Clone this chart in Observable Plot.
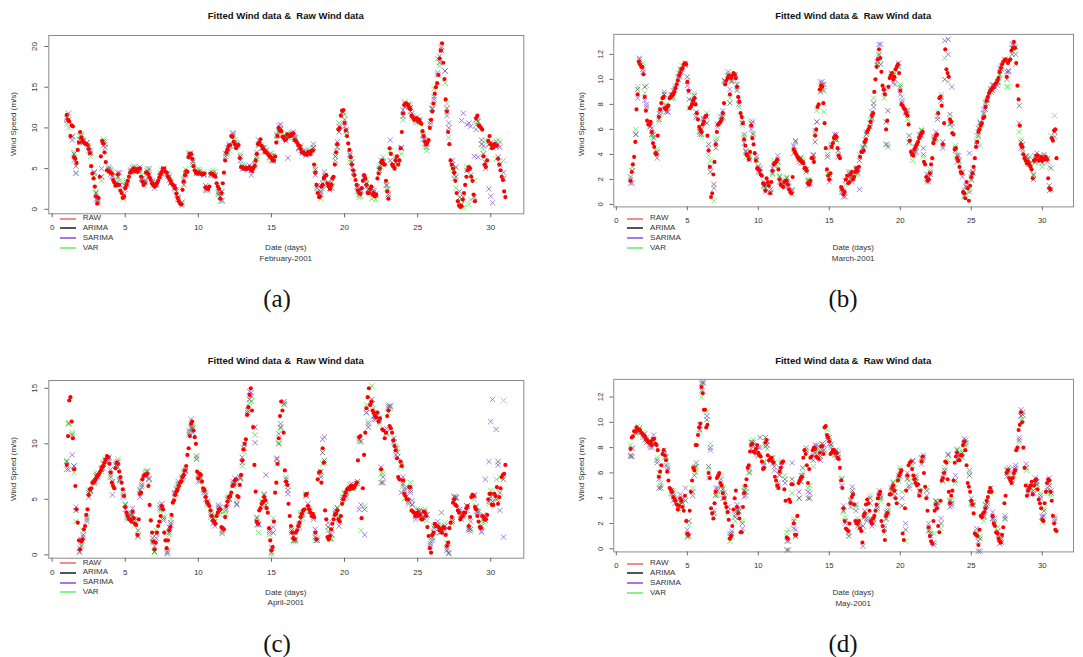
<!DOCTYPE html>
<html><head><meta charset="utf-8">
<script src="https://cdn.jsdelivr.net/npm/d3@7"></script>
<script src="https://cdn.jsdelivr.net/npm/@observablehq/plot@0.6"></script>
<style>
html,body{margin:0;padding:0;background:#fff;}
body{width:1083px;height:657px;overflow:hidden;position:relative;font-family:"Liberation Sans",Arial,sans-serif;color:#222;}
.t{position:absolute;white-space:nowrap;transform:translate(-50%,-50%);line-height:1;}
.title{font-weight:bold;font-size:9.5px;color:#111;}
.lab{font-size:8px;color:#333;}
.cap{font-family:"Liberation Serif","Times New Roman",serif;font-size:25px;color:#111;}
.leg{position:absolute;font-size:8px;color:#333;white-space:nowrap;line-height:1;}
.legline{position:absolute;height:2px;width:16px;}
.panel{position:absolute;}
</style></head><body>
<script>
// ---------------- DATA ----------------
const months = ["February-2001", "March-2001", "April-2001", "May-2001"];
const seriesNames = ["RAW", "ARIMA", "SARIMA", "VAR"];
const xTickValues = [0, 5, 10, 15, 20, 25, 30];
const yTicksFeb = [0, 5, 10, 15, 20];
const yTicksMar = [0, 2, 4, 6, 8, 10, 12];
const yTicksApr = [0, 5, 10, 15];
const yTicksMay = [0, 2, 4, 6, 8, 10, 12];
// raw data read every 2 hours from day 1
const rawStart = 1, rawStep = 1 / 12;
// fitted values read at 03h,09h,15h,21h (fitStart/fitStep) and at 00h,12h (halfStart/halfStep)
const fitStart = 1.125, fitStep = 0.25;
const halfStart = 1, halfStep = 0.5;

const febRaw = [
 11.6,11.0,10.8,9.0,10.3,10.2,6.4,6.2,5.7,7.3,8.2,9.5,
 8.8,8.4,8.2,8.1,8.0,7.9,7.4,6.9,5.3,4.4,3.8,2.8,
 1.6,0.7,1.4,4.0,6.5,8.4,8.1,7.0,5.8,4.8,4.7,4.6,
 4.5,4.4,3.6,3.3,2.9,3.0,4.3,3.0,2.3,2.0,1.4,1.6,
 2.6,3.0,3.5,4.0,4.5,4.6,4.9,5.0,4.7,4.9,4.6,5.0,
 5.0,4.0,3.4,3.0,3.2,4.5,4.5,4.3,3.9,3.6,3.2,3.0,
 2.8,2.9,3.2,3.5,3.9,4.3,4.6,5.0,5.0,4.6,4.5,4.0,
 3.8,3.5,3.2,3.0,2.9,2.6,1.9,1.4,1.0,0.7,0.6,2.4,
 3.4,4.2,4.7,4.6,6.4,6.8,6.8,6.2,5.3,4.8,4.5,4.4,
 4.5,4.4,4.4,4.3,4.3,4.4,2.7,2.6,2.5,2.8,4.4,4.4,
 4.3,4.2,4.0,3.2,2.8,2.5,1.3,2.0,3.2,4.5,6.0,7.0,
 7.4,7.8,7.9,9.0,8.9,8.3,8.0,7.5,7.8,7.9,6.3,5.2,
 5.2,5.0,5.0,5.0,5.0,5.1,5.2,4.9,4.7,5.0,5.3,6.0,
 6.8,8.0,8.2,8.6,7.8,7.5,7.3,7.0,7.0,6.8,6.6,6.5,
 6.3,6.0,6.0,6.5,8.2,9.0,10.0,9.7,9.6,8.9,8.9,8.5,
 8.6,9.2,9.1,9.0,9.0,9.3,9.3,8.5,8.4,8.2,7.9,7.8,
 7.4,7.0,7.0,6.8,6.8,6.7,7.0,7.0,6.8,7.2,7.2,5.5,
 4.5,3.0,2.0,1.5,1.6,2.8,3.0,3.8,4.1,4.2,3.2,2.8,
 2.5,3.0,3.8,4.0,5.5,7.0,8.0,9.8,10.0,11.5,12.1,12.2,
 10.6,9.7,9.0,8.1,7.3,6.4,5.5,4.8,4.2,3.6,3.0,2.3,
 2.0,1.9,2.6,3.5,4.2,3.8,3.0,2.0,2.0,2.5,2.8,1.8,
 2.0,1.6,1.8,3.8,4.4,5.0,5.8,6.0,5.6,5.5,3.5,2.2,
 1.3,7.5,6.8,5.5,5.3,5.0,6.0,6.5,5.5,6.0,7.5,9.5,
 11.8,12.8,13.0,13.0,12.8,12.5,12.3,11.5,11.3,11.0,11.1,11.2,
 10.9,11.0,10.7,10.5,9.6,9.0,8.3,8.0,8.2,8.5,10.0,11.0,
 12.0,13.0,14.2,15.0,15.5,16.5,18.5,19.5,20.4,18.0,16.0,13.5,
 12.0,9.5,8.0,6.0,5.5,5.0,4.5,3.5,2.0,1.0,0.5,0.3,
 0.4,1.2,2.0,3.0,4.0,4.8,5.2,5.0,4.0,3.5,1.8,1.0,
 11.2,11.5,10.3,10.2,10.0,9.8,6.5,5.5,5.2,6.0,8.4,9.0,
 8.0,7.5,7.6,8.0,7.9,7.8,6.2,5.5,4.8,4.0,3.6,2.2,
 1.5];
const febArima = [11.0,8.9,5.3,8.6, 8.4,8.1,6.9,4.5, 1.2,4.0,7.6,4.9, 4.0,3.2,3.0,1.6, 3.2,4.7,4.8,4.8, 3.8,3.6,4.2,3.3,
 3.1,4.2,4.9,4.3, 3.3,2.6,1.2,0.8, 4.4,6.6,5.8,4.4, 4.4,4.2,2.6,4.3, 4.1,2.0,2.2,6.5, 7.8,9.2,7.9,6.5,
 5.0,5.1,4.8,5.6, 7.9,7.5,7.0,6.4, 6.1,9.0,9.8,8.8, 8.9,9.2,8.6,7.6, 7.1,6.9,6.9,7.6, 2.6,2.2,3.8,3.0,
 3.3,6.5,9.5,12.0, 9.6,6.6,4.5,2.8, 2.3,3.8,2.4,2.5, 1.7,4.8,5.7,3.0, 6.0,5.5,6.0,7.5, 12.6,12.9,11.8,11.0,
 10.8,9.0,8.0,10.5, 13.5,16.5,19.5,17.0, 10.0,5.5,4.0,1.5, 1.5,4.8,4.2,1.5, 10.8,8.5,5.8,8.0, 7.8,7.7,5.5,3.8];
const febArimaHalfDay = [11.2,6.8, 9.0,7.6, 2.0,8.3, 4.7,4.0, 2.9,4.7, 4.9,4.7, 3.0,4.4, 4.0,2.2, 3.0,6.5, 4.6,2.9,
 4.5,1.6, 7.0,8.2, 5.3,5.0, 6.5,7.1, 6.6,9.6, 8.8,9.1, 7.6,7.1, 4.9,3.2, 2.6,7.6, 11.0,5.8,
 2.2,3.2, 2.1,5.5, 1.8,5.8, 11.4,12.5, 11.0,8.6, 12.4,18.0, 12.4,4.8, 0.6,5.0, 11.0,6.8, 8.2,6.4];
const febSarima = [11.8,8.5,4.4,8.2, 8.3,8.2,7.2,4.6, 1.0,5.0,8.0,5.2, 4.2,3.0,4.5,1.8, 3.0,4.6,5.1,4.9, 3.7,3.3,5.0,3.5,
 3.0,4.0,5.0,4.4, 3.2,2.8,1.5,0.5, 4.2,6.8,6.0,4.6, 4.5,4.3,2.4,4.2, 4.2,2.2,1.1,6.8, 8.0,9.4,8.0,6.0,
 5.1,4.9,4.2,5.5, 8.5,7.6,7.2,6.8, 5.9,9.2,10.4,9.0, 6.3,9.4,8.8,7.5, 7.0,6.7,7.0,8.0, 2.9,2.0,4.6,3.2,
 2.6,6.0,10.2,12.0, 9.8,6.8,4.6,2.6, 2.4,4.0,2.5,2.2, 1.9,5.0,5.9,2.9, 8.5,5.4,6.0,7.6, 13.0,12.8,11.5,11.0,
 11.0,8.6,7.6,10.8, 13.8,16.8,19.8,17.0, 10.6,6.0,5.2,2.2, 11.8,10.4,10.2,6.5, 6.4,8.0,5.0,2.5, 0.8,8.3,7.6,4.5];
const febSarimaHalfDay = [10.9,6.0, 8.5,7.2, 1.2,7.8, 4.3,4.5, 2.4,5.1, 5.2,4.3, 2.6,4.8, 3.6,1.7, 3.6,6.9, 4.4,2.5,
 4.2,1.5, 7.6,7.8, 5.0,5.4, 7.0,7.5, 6.0,10.3, 8.4,9.5, 7.2,6.8, 4.2,2.8, 2.4,8.3, 10.2,5.2,
 1.8,2.8, 2.3,6.0, 1.5,6.2, 12.2,12.0, 10.7,8.0, 12.3,18.8, 11.5,4.2, 10.9,10.6, 9.8,7.8, 1.6,8.0];
const febVar = [10.0,9.0,4.5,9.0, 8.6,7.8,6.5,4.0, 0.8,3.5,8.3,5.0, 4.6,3.4,3.5,1.3, 3.5,4.9,5.3,4.7, 4.2,3.5,4.8,3.0,
 3.3,4.5,5.0,4.0, 3.5,2.4,1.4,0.9, 4.9,6.9,5.5,4.8, 4.8,4.6,2.3,4.6, 4.6,1.8,1.0,6.8, 7.2,9.0,8.2,6.8,
 5.3,5.2,5.1,5.3, 7.8,8.0,7.3,6.2, 6.6,8.6,10.0,9.2, 9.3,9.0,8.9,7.4, 6.9,6.6,7.2,7.5, 2.2,1.3,4.2,3.2,
 2.8,6.5,10.6,11.8, 9.2,5.8,4.0,2.2, 1.6,3.6,2.8,1.3, 1.2,5.3,6.4,2.5, 7.2,5.0,6.4,6.8, 13.2,12.5,11.2,10.7,
 10.5,9.2,7.2,10.8, 14.8,18.5,20.0,15.5, 8.8,5.0,2.6,0.5, 0.2,5.2,1.2,3.5, 10.8,8.0,8.5,7.9, 8.1,6.2,8.3,6.0];
const febVarHalfDay = [10.5,7.0, 9.2,7.8, 2.2,8.6, 4.9,3.8, 3.2,4.5, 4.6,5.0, 3.2,4.2, 4.2,2.4, 3.8,6.4, 4.9,2.3,
 4.8,1.0, 6.8,8.5, 5.5,5.0, 6.2,7.6, 6.9,9.4, 9.0,8.8, 7.8,7.4, 5.2,2.5, 2.9,7.2, 11.6,6.2,
 1.5,3.6, 1.5,5.2, 2.5,6.5, 11.0,12.8, 11.4,7.7, 12.8,17.6, 13.0,3.8, 1.2,0.6, 10.4,7.4, 7.6,8.5];

const marRaw = [
 1.9,2.6,3.2,3.8,5.0,7.6,8.8,11.4,11.2,11.0,11.0,10.4,
 8.6,7.5,6.7,6.4,6.4,6.6,5.8,4.9,4.6,4.1,4.0,5.5,
 7.0,7.6,8.1,8.5,8.6,7.7,7.6,7.8,7.9,8.5,8.6,8.8,
 8.8,9.0,9.3,9.6,9.9,10.3,10.5,10.8,10.9,11.2,11.3,11.2,
 9.8,9.1,7.7,7.8,8.0,8.3,8.5,8.0,7.3,6.8,6.2,6.0,
 5.8,6.4,6.6,7.0,7.1,5.5,4.3,3.0,0.6,0.9,2.4,3.4,
 4.8,5.8,6.4,6.5,6.6,6.8,7.3,8.1,9.6,9.9,10.1,10.3,
 8.8,10.1,10.3,10.5,10.4,10.1,9.4,8.6,8.2,7.3,7.0,6.5,
 5.2,4.7,4.0,3.9,3.6,4.2,6.3,5.3,4.8,4.1,3.5,2.9,
 2.8,2.7,2.4,2.3,1.7,1.6,1.1,2.1,1.8,1.5,0.9,1.8,
 2.7,3.2,3.3,3.4,3.6,2.8,2.0,1.6,1.5,1.4,1.8,1.9,
 1.9,1.6,1.2,1.0,0.9,2.2,4.4,4.2,4.0,3.8,3.7,3.6,
 3.5,3.4,3.3,2.9,2.9,2.7,1.7,1.6,1.9,3.7,3.7,3.4,
 5.5,6.0,7.8,8.0,9.2,9.5,9.4,8.1,6.5,4.5,2.8,2.3,
 2.0,2.5,4.6,4.9,5.3,5.5,5.4,4.5,3.9,3.7,1.4,1.2,
 0.8,1.0,2.0,2.3,1.7,1.8,2.4,2.6,2.0,2.2,2.6,2.9,
 2.7,3.0,3.8,4.2,4.2,4.3,5.0,5.2,5.8,6.0,6.2,6.6,
 7.1,7.3,9.0,10.0,11.0,11.6,12.4,11.7,10.6,9.5,9.2,8.8,
 6.0,6.7,9.4,10.1,10.3,10.5,10.0,10.2,10.8,11.0,11.2,10.5,
 9.1,8.0,7.9,7.7,7.6,7.3,7.1,6.4,5.1,4.2,4.0,3.9,
 4.4,4.6,4.8,5.0,5.3,5.5,5.7,5.8,3.4,3.2,2.2,1.9,
 2.0,2.5,3.2,3.7,4.9,5.2,5.5,5.6,7.3,8.5,8.6,7.9,
 4.8,6.5,12.4,10.8,10.5,10.2,6.8,6.6,5.7,5.6,4.4,4.5,
 3.7,3.5,3.0,2.6,2.5,1.0,0.9,0.5,1.8,1.3,0.3,1.5,
 2.2,2.5,3.0,3.7,4.6,5.0,5.8,6.0,6.3,6.5,6.9,7.0,
 7.8,8.3,8.6,8.9,9.1,9.2,9.3,9.4,9.6,9.7,9.9,10.1,
 10.6,10.9,11.2,11.4,11.5,11.6,10.2,11.3,11.5,11.6,12.3,12.5,
 13.0,12.5,11.3,9.5,8.4,6.3,4.8,4.6,4.0,3.7,3.5,3.3,
 3.4,3.2,3.0,2.8,2.1,3.5,3.6,3.9,3.9,3.5,3.6,3.8,
 3.5,3.6,3.7,3.8,3.6,2.1,1.3,1.2,5.3,5.1,5.9,6.0,
 3.7];
const marArima = [2.7,5.6,11.6,10.8, 7.8,6.3,5.3,4.2, 7.6,8.8,7.4,8.5, 9.1,10.2,10.8,11.1, 8.4,8.3,7.4,5.8, 6.8,6.5,2.6,1.6,
 6.4,6.8,9.9,10.3, 9.8,10.4,8.4,6.5, 4.3,3.8,5.6,3.8, 2.6,1.5,1.6,1.2, 3.1,3.4,1.6,1.6, 1.4,1.1,5.0,3.6,
 3.4,2.6,1.8,3.9, 6.6,9.0,9.6,3.8, 4.6,5.2,4.3,1.2, 1.9,2.2,2.2,2.8, 3.5,4.6,5.6,6.5, 8.1,11.2,11.2,9.0,
 7.5,10.5,10.0,11.3, 8.1,7.4,5.5,4.2, 4.6,5.5,4.5,2.0, 2.6,5.2,6.8,8.3, 10.0,13.2,6.5,4.3, 3.5,2.6,1.4,1.0,
 2.6,5.0,6.5,7.3, 8.3,9.2,9.4,9.8, 10.8,11.5,10.6,12.0, 12.6,7.9,4.8,3.8, 3.2,2.4,3.8,3.7, 3.6,3.7,1.2,5.8];
const marArimaHalfDay = [2.2,9.2, 9.4,5.6, 6.8,7.9, 8.6,10.8, 10.2,8.7, 5.6,4.8, 4.5,7.0, 8.1,9.6, 5.6,6.5, 3.0,1.3,
 2.5,2.2, 2.1,4.1, 3.7,1.9, 5.0,9.6, 2.4,5.2, 1.0,2.2, 2.5,4.8, 6.9,12.0, 6.6,10.3, 9.4,7.3,
 4.2,5.9, 2.2,5.3, 5.0,7.2, 3.9,1.1, 2.0,6.1, 7.6,9.1, 10.4,10.6, 12.7,5.0, 3.6,3.4, 3.3,1.5];
const marSarima = [1.7,5.6,11.7,10.6, 8.0,6.2,5.6,3.7, 7.4,9.0,7.4,8.8, 9.3,10.0,10.6,11.3, 9.0,8.2,7.0,5.6, 6.9,7.0,3.0,1.3,
 6.2,7.0,9.8,10.6, 9.9,10.2,8.0,6.8, 4.2,3.6,6.6,3.6, 2.9,1.8,1.5,1.0, 3.3,3.9,1.8,1.4, 1.7,1.2,5.1,3.4,
 3.3,2.8,1.6,4.0, 6.6,9.8,9.1,4.0, 4.8,5.6,3.8,1.0, 0.6,2.5,1.8,2.9, 1.2,4.4,5.8,6.2, 7.8,11.4,12.8,9.3,
 4.6,10.4,9.6,11.0, 8.3,7.3,5.0,4.0, 4.2,5.6,4.0,2.4, 2.4,5.4,7.0,8.6, 13.1,12.0,9.4,4.5, 3.9,2.2,1.5,4.1,
 2.5,4.8,6.6,7.6, 8.4,9.0,9.5,9.5, 11.0,11.5,10.7,12.8, 12.0,6.5,4.4,3.9, 3.3,2.0,4.1,3.5, 4.0,3.4,2.9,5.4];
const marSarimaHalfDay = [1.7,8.5, 8.3,6.1, 7.3,7.4, 9.1,10.2, 9.5,8.3, 6.0,4.5, 5.0,7.5, 9.2,9.1, 4.9,6.0, 2.6,1.0,
 2.9,1.8, 1.7,4.7, 3.3,1.5, 5.9,9.8, 1.8,5.6, 0.6,2.6, 2.9,5.2, 7.4,12.8, 4.8,9.7, 8.8,7.5,
 4.6,5.5, 1.8,5.8, 4.5,6.4, 3.4,0.7, 2.5,5.5, 8.1,9.6, 10.9,10.0, 12.8,4.5, 3.2,3.9, 3.8,1.1];
const marVar = [3.0,6.0,11.4,11.3, 9.5,6.2,5.4,4.4, 7.2,8.8,7.8,8.7, 9.5,10.5,11.1,11.2, 7.7,8.2,6.9,5.8, 6.6,7.3,3.5,0.3,
 5.3,7.0,9.9,10.4, 10.2,9.9,7.8,6.3, 3.8,3.9,5.7,3.5, 2.8,1.4,1.5,0.9, 3.5,3.1,1.4,2.0, 1.5,0.8,4.3,3.7,
 3.6,2.8,2.0,3.5, 7.5,9.3,7.4,2.5, 4.5,5.3,4.0,1.0, 1.6,2.6,2.1,2.3, 4.0,4.5,5.7,6.8, 8.5,11.1,11.6,8.5,
 4.8,10.2,10.5,11.0, 8.6,7.5,4.9,3.5, 4.9,5.3,3.8,1.8, 2.8,5.2,7.4,8.8, 11.7,9.8,6.2,4.7, 3.4,2.5,0.8,1.2,
 2.9,5.5,4.7,7.2, 8.1,9.3,9.2,9.7, 11.1,11.6,9.4,12.5, 11.2,5.8,4.2,3.3, 3.8,2.3,3.7,3.9, 3.9,3.6,5.5,7.1];
const marVarHalfDay = [2.0,9.4, 8.9,5.5, 6.6,8.0, 8.5,10.6, 9.9,8.9, 5.4,3.9, 5.2,6.9, 8.5,9.2, 5.4,6.7, 3.1,1.4,
 2.4,2.3, 2.2,4.6, 3.8,2.0, 5.7,9.1, 2.2,5.1, 1.1,2.1, 2.4,4.7, 6.8,11.9, 4.8,10.4, 9.6,6.8,
 4.1,6.0, 2.4,5.2, 4.7,6.5, 4.0,0.6, 1.9,5.4, 8.2,9.5, 10.3,9.4, 12.4,5.2, 3.7,3.3, 3.0,3.0];

const aprRaw = [
 8.1,10.7,13.9,14.2,12.0,10.5,7.7,6.2,4.1,2.9,1.3,0.5,
 1.2,1.4,2.3,2.6,3.6,4.1,5.4,5.9,6.0,6.5,6.5,6.7,
 6.9,7.1,7.2,7.4,7.6,7.9,8.0,8.3,8.6,8.9,8.8,8.2,
 7.4,6.5,6.2,6.0,7.8,8.3,8.2,7.5,7.0,6.5,5.9,5.3,
 4.3,3.8,3.5,3.2,3.2,3.0,3.9,3.3,2.8,2.7,1.8,3.2,
 5.5,5.6,6.8,7.1,7.2,7.2,7.3,6.2,4.5,3.1,2.0,1.2,
 0.5,1.1,2.0,2.6,3.0,3.5,4.4,4.1,2.0,1.3,0.6,1.3,
 2.2,2.5,3.6,4.7,4.9,5.4,5.7,5.9,6.2,6.5,6.6,7.0,
 7.2,7.6,8.0,9.0,9.6,10.7,11.8,12.0,11.2,10.6,10.0,7.5,
 6.9,7.3,7.2,6.6,6.0,5.8,5.2,4.8,4.6,4.4,4.0,3.5,
 3.1,3.0,2.8,3.5,3.8,4.1,4.1,2.5,2.4,2.3,3.4,4.4,
 4.8,5.2,5.3,5.6,6.2,6.3,6.7,6.8,5.3,5.2,6.3,7.2,
 8.5,9.5,10.0,10.4,12.6,13.3,14.4,15.0,13.0,11.5,8.1,5.7,
 3.0,2.8,4.0,4.2,4.6,4.8,5.2,4.9,4.2,3.8,2.4,1.3,
 0.4,0.7,3.0,5.6,6.5,8.2,10.5,12.5,13.8,13.0,11.0,7.6,
 6.6,6.3,4.6,3.5,2.6,2.0,1.5,1.4,2.0,2.2,2.6,2.9,
 3.4,3.7,4.0,4.1,5.4,5.5,4.4,4.1,3.8,3.5,3.7,3.4,
 2.0,1.4,6.8,7.4,7.5,6.5,9.6,8.3,4.0,3.2,1.6,1.4,
 1.7,2.3,2.8,3.2,3.6,3.7,4.0,3.2,3.0,3.5,4.6,5.0,
 5.3,5.6,5.9,6.0,5.9,6.2,6.2,6.0,6.1,6.3,6.5,8.5,
 10.6,10.7,3.3,6.0,9.0,11.0,13.2,14.2,15.0,13.5,13.8,13.0,
 12.8,12.5,12.4,12.8,12.0,12.3,7.7,11.3,11.2,10.5,11.0,12.5,
 13.0,11.6,11.4,11.0,10.3,9.8,9.4,8.7,7.0,6.8,8.4,8.0,
 6.7,5.5,5.3,5.0,5.0,6.1,6.1,4.0,3.9,3.8,3.5,3.6,
 3.8,3.5,3.6,3.2,3.2,3.9,3.8,3.5,2.5,1.7,0.6,0.2,
 1.8,2.0,2.8,2.6,2.6,2.5,2.2,2.3,2.0,2.5,2.4,1.8,
 0.8,1.1,2.4,2.9,3.4,4.7,5.0,4.5,4.4,4.0,3.8,3.2,
 3.4,3.5,3.8,3.8,4.2,4.4,2.6,3.4,5.2,5.4,5.3,4.3,
 4.1,3.5,3.0,2.5,2.4,3.5,3.4,3.2,3.2,3.6,5.0,5.5,
 5.5,4.5,4.5,5.5,5.3,6.1,4.6,5.2,6.0,7.0,7.2,7.3,
 8.1];
const aprArima = [11.8,10.8,4.0,0.3, 1.8,3.2,5.8,6.5, 7.2,7.7,8.5,8.7, 6.6,8.1,6.8,5.4, 3.4,3.6,3.0,2.2, 6.3,7.1,6.8,1.5,
 1.9,4.2,3.3,0.3, 2.9,5.5,6.4,6.8, 7.6,11.0,11.4,8.9, 7.0,5.8,4.8,3.6, 3.0,4.3,2.2,4.0, 5.0,6.4,4.6,6.9,
 9.6,12.8,14.3,11.5, 2.7,4.8,4.5,2.2, 2.0,8.6,11.5,13.6, 5.8,2.2,1.4,2.6, 3.6,5.4,3.9,3.4, 1.3,7.5,8.5,2.5,
 2.3,3.7,3.2,5.0, 5.6,6.0,6.0,6.6, 10.2,4.1,11.5,14.0, 12.5,12.3,6.5,11.0, 13.4,10.5,8.8,8.1, 5.8,4.8,4.5,3.5,
 3.9,3.4,3.6,1.0, 2.4,2.7,2.1,2.6, 0.2,3.0,5.2,3.9, 3.7,4.4,2.3,5.3, 3.8,2.6,3.1,4.8, 4.8,5.0,5.6,6.8];
const aprArimaHalfDay = [8.4,8.0, 0.8,5.6, 7.1,8.2, 7.0,8.4, 4.5,3.6, 5.8,7.5, 0.3,4.2, 2.0,5.9, 7.4,11.4, 7.2,5.4,
 3.3,3.9, 5.0,6.5, 8.3,14.0, 3.3,5.4, 0.2,10.0, 6.8,1.7, 3.6,4.2, 1.6,9.2, 1.5,4.2, 5.5,6.0,
 10.4,12.8, 12.5,6.5, 13.4,9.6, 6.4,5.8, 4.0,3.6, 1.6,2.4, 0.4,5.2, 3.6,2.4, 4.3,3.2, 5.2,8.4];
const aprSarima = [7.7,9.0,4.3,0.6, 1.6,3.0,5.7,6.6, 7.0,7.8,8.4,8.5, 5.4,8.3,6.7,5.2, 3.7,3.5,3.2,1.7, 6.1,7.3,6.9,1.2,
 1.5,4.5,3.1,0.1, 2.7,5.6,6.6,7.0, 7.5,11.2,11.0,8.6, 6.8,5.6,4.6,3.4, 2.6,4.5,2.0,4.2, 5.1,6.6,4.5,7.0,
 10.0,13.0,14.6,10.1, 2.8,4.5,7.2,2.0, 2.5,8.7,11.8,13.8, 5.5,2.0,1.3,2.4, 3.8,5.3,4.0,3.2, 1.5,7.0,10.6,2.9,
 1.8,4.0,2.6,5.2, 5.2,6.3,6.2,6.4, 4.5,1.8,11.8,13.6, 12.2,12.0,7.0,11.4, 13.4,10.2,9.2,5.6, 6.0,4.6,4.9,3.2,
 4.0,3.5,3.6,0.8, 2.0,3.0,3.8,2.2, 0.1,3.2,5.1,4.1, 3.6,4.0,3.0,5.4, 3.9,2.1,6.8,8.4, 14.0,11.3,4.0,1.6];
const aprSarimaHalfDay = [7.7,8.0, 1.4,5.2, 6.6,7.8, 7.7,7.9, 4.1,4.2, 5.2,7.1, 0.8,4.6, 2.5,5.5, 7.0,12.2, 6.6,5.0,
 2.8,4.3, 4.6,6.9, 8.8,14.7, 2.7,5.0, 0.7,10.9, 6.4,1.3, 3.2,4.6, 2.3,10.4, 1.9,3.8, 5.1,6.4,
 4.1,12.8, 12.2,7.9, 13.2,9.0, 7.0,5.6, 3.6,3.9, 1.3,2.0, 0.6,4.8, 3.2,2.2, 3.9,3.6, 12.0,8.1];
const aprVar = [11.9,11.0,3.0,0.2, 2.2,3.4,5.8,6.4, 7.4,7.5,8.6,8.8, 6.4,8.0,6.6,5.6, 3.2,3.8,2.6,1.6, 6.5,7.5,6.4,1.0,
 2.2,4.0,3.5,0.2, 3.2,5.3,6.2,6.9, 7.8,10.8,11.6,8.7, 6.6,5.9,4.4,3.8, 3.2,4.1,1.9,3.7, 5.3,6.2,4.9,6.8,
 9.3,13.0,13.8,10.8, 2.0,4.7,4.8,1.8, 3.3,8.2,11.4,13.5, 6.2,2.4,1.2,2.8, 3.3,5.5,4.2,3.6, 1.3,7.2,8.3,2.2,
 1.4,3.8,3.4,4.8, 5.4,6.0,6.2,6.4, 2.2,4.4,12.0,15.2, 12.8,11.8,7.3,10.9, 13.2,10.1,9.6,7.9, 5.1,5.0,4.6,3.4,
 3.6,3.9,3.1,1.2, 2.6,2.5,2.0,2.9, 1.0,2.8,5.1,3.6, 3.4,4.4,2.1,5.0, 4.0,2.0,3.4,4.6, 5.6,6.8,7.0,13.9];
const aprVarHalfDay = [8.5,7.4, 1.0,5.8, 7.3,8.3, 7.2,8.6, 4.6,3.5, 5.9,7.6, 0.2,4.0, 1.8,6.1, 7.6,11.5, 7.4,5.6,
 3.5,3.6, 5.2,6.3, 8.0,13.7, 3.4,5.5, 0.0,10.1, 7.0,1.2, 3.8,4.0, 1.3,8.2, 1.4,4.3, 5.6,6.0,
 10.2,13.5, 13.2,7.3, 12.8,9.8, 6.2,6.5, 4.2,4.1, 1.5,2.6, 1.1,5.3, 3.8,2.3, 4.4,3.0, 5.8,5.0];

const mayRaw = [
 7.9,8.8,8.9,9.3,9.3,9.6,9.5,9.4,9.4,9.2,9.1,9.0,
 8.9,8.7,8.6,8.4,8.4,8.5,8.2,8.7,8.7,8.3,8.2,7.8,
 5.7,6.1,6.6,7.5,7.8,7.4,7.0,6.1,5.4,4.8,4.7,4.5,
 4.1,4.0,3.8,3.5,3.1,3.4,4.0,3.8,3.3,3.0,4.2,2.2,
 1.2,1.1,3.0,4.5,5.4,6.4,6.2,8.2,8.2,9.0,9.6,9.9,
 12.8,12.3,11.0,11.0,9.6,9.8,6.0,5.6,3.2,2.8,2.4,3.6,
 4.5,5.6,5.8,6.0,5.2,5.0,4.4,4.0,3.6,3.3,2.9,2.3,
 0.8,1.0,1.8,3.1,4.0,4.6,3.3,2.8,2.4,1.3,1.3,3.3,
 4.4,5.0,5.5,6.4,6.6,7.7,8.2,8.3,7.7,7.6,7.9,8.2,
 7.6,7.4,7.3,6.9,6.3,6.4,8.4,8.6,7.4,7.0,7.1,7.2,
 6.9,6.8,5.7,5.4,5.0,4.8,6.1,6.4,6.8,6.9,4.7,3.8,
 0.9,0.8,3.9,3.7,5.1,5.1,2.0,1.1,1.1,2.6,5.2,5.4,
 5.6,5.7,7.2,7.8,7.5,6.6,5.2,6.3,7.2,7.3,7.8,8.0,
 7.9,7.3,7.2,7.1,7.6,8.1,8.1,7.5,9.6,9.7,9.0,8.8,
 8.5,7.5,7.6,7.8,7.8,7.6,7.6,7.2,7.1,6.4,5.4,4.8,
 3.2,2.2,1.6,1.5,1.4,2.0,3.6,4.1,4.3,3.5,2.2,2.0,
 2.0,2.2,1.6,1.4,0.5,2.6,2.8,3.5,3.9,3.6,3.0,2.2,
 2.0,2.4,2.6,3.0,3.5,4.0,4.3,4.5,2.2,1.8,1.4,0.7,
 2.6,2.8,3.5,4.3,4.3,4.8,5.0,4.6,4.0,3.6,5.4,5.8,
 6.0,6.2,1.2,0.7,3.2,4.6,5.8,6.6,6.8,6.9,6.3,5.8,
 5.5,5.2,5.0,5.1,4.2,4.6,6.9,7.3,6.0,4.9,4.0,3.0,
 1.7,1.0,0.6,0.4,2.2,3.0,3.5,3.2,1.8,1.3,3.8,5.4,
 5.6,6.0,6.9,6.8,5.5,4.5,3.6,4.2,4.6,5.4,6.8,7.3,
 7.6,7.0,7.0,7.4,7.4,8.2,8.5,7.8,6.6,5.2,4.9,4.5,
 3.8,3.5,2.8,1.2,1.1,1.0,0.3,1.5,2.6,2.5,2.8,2.9,
 3.2,3.8,4.1,4.5,4.8,4.5,2.6,2.0,1.8,1.3,1.2,0.8,
 0.6,0.5,1.1,1.7,3.6,4.2,6.0,6.2,5.6,5.4,5.2,5.6,
 6.0,6.2,7.8,8.0,9.4,9.8,10.8,10.0,8.0,6.4,5.0,4.2,
 4.6,4.8,5.0,5.3,4.3,5.0,5.4,5.5,4.7,3.9,3.6,3.2,
 2.3,2.2,3.6,4.5,5.2,5.5,5.4,4.5,3.8,2.6,2.0,1.5,
 1.4];
const mayArima = [7.3,9.2,9.3,9.0, 8.4,8.2,8.5,7.0, 4.8,7.5,6.2,4.6, 3.9,3.4,3.7,3.8, 2.2,4.5,6.5,9.4, 13.1,10.2,8.0,2.8,
 4.6,5.0,4.0,3.3, 1.2,2.5,3.0,2.0, 4.5,6.0,8.4,7.8, 8.8,6.8,8.2,7.0, 6.5,5.0,6.8,5.5, -0.1,5.5,1.0,4.0,
 6.4,7.8,4.0,7.0, 8.0,7.3,7.8,8.9, 8.2,7.4,7.5,5.5, 2.2,1.0,4.6,3.5, 1.7,1.8,2.2,4.0, 2.3,3.2,4.0,1.6,
 3.0,4.8,4.5,5.6, 3.4,1.5,5.0,6.9, 5.6,4.5,7.2,4.6, 1.2,0.5,3.6,2.0, 6.2,7.4,3.6,5.4, 7.2,7.6,8.4,5.8,
 3.5,1.2,0.8,2.5, 3.6,4.6,2.0,1.4, 0.8,2.4,6.2,5.4, 6.4,8.6,10.6,6.4, 4.8,4.6,5.1,4.2, 3.0,4.6,4.4,2.2];
const mayArimaHalfDay = [7.3,9.2, 8.6,8.4, 4.8,7.3, 4.4,3.7, 1.0,6.4, 13.1,6.5, 4.2,4.7, 1.0,3.0, 4.6,8.4, 7.4,8.8,
 7.2,5.8, -0.1,2.2, 5.3,4.0, 7.6,8.3, 8.8,7.4, 3.0,3.8, 1.8,2.5, 2.3,4.1, 2.4,5.2, 6.2,5.5,
 5.7,7.2, 1.4,3.8, 5.4,3.8, 7.8,8.3, 3.6,-0.2, 3.5,2.4, 0.4,6.2, 5.8,10.5, 4.9,5.2, 2.5,5.0];
const maySarima = [7.9,9.3,9.5,8.8, 8.6,8.0,9.0,6.8, 5.0,7.8,6.4,4.4, 3.6,3.2,3.9,4.8, 1.0,4.2,6.8,9.8, 13.2,10.5,7.8,3.0,
 4.8,5.5,4.2,3.0, 1.4,2.7,3.2,1.6, 4.2,6.3,8.2,7.5, 8.0,6.6,8.5,7.2, 6.2,5.2,6.6,5.2, 0.6,6.8,1.5,4.5,
 5.8,8.0,4.4,7.4, 8.2,7.0,8.2,8.7, 8.0,7.7,7.2,5.0, 2.0,1.3,4.9,3.0, 1.9,0.2,2.4,3.6, 2.0,3.4,4.2,1.8,
 2.8,4.6,4.2,5.8, 4.0,2.0,4.8,7.0, 5.3,4.6,7.4,4.2, 1.0,0.3,3.4,2.4, 6.0,7.5,3.4,5.8, 7.4,7.2,8.6,6.2,
 3.4,1.6,-0.2,2.6, 3.4,4.8,2.4,1.1, 0.5,2.6,6.4,5.2, 6.6,8.8,10.8,6.7, 5.0,4.4,5.3,4.0, 2.6,4.8,4.6,2.4];
const maySarimaHalfDay = [7.4,9.4, 9.1,8.0, 5.5,6.6, 3.8,4.3, 1.5,5.8, 12.5,5.6, 4.8,4.0, 1.2,3.5, 4.1,7.9, 8.0,8.1,
 6.7,6.4, 0.6,1.6, 5.8,4.5, 8.2,7.8, 8.3,7.8, 3.4,3.3, 2.2,3.0, 1.8,4.6, 2.9,4.7, 5.7,6.0,
 5.3,6.7, 2.0,3.2, 5.9,3.3, 7.4,8.7, 4.0,0.6, 3.0,2.9, 0.8,5.7, 6.3,11.0, 4.3,5.6, 2.6,5.6];
const mayVar = [8.0,9.1,9.6,9.2, 8.8,8.3,8.6,7.2, 5.2,7.2,6.6,4.3, 4.3,3.0,3.6,4.2, 1.9,4.8,6.0,9.2, 12.5,10.8,8.3,2.5,
 4.2,5.8,4.5,2.8, 1.0,2.2,2.9,2.2, 4.8,6.1,8.6,8.1, 7.4,6.9,7.9,6.9, 6.8,4.8,7.0,5.8, 1.5,4.4,1.0,4.0,
 6.0,7.6,5.0,6.5, 7.7,7.8,7.6,9.4, 8.3,7.6,7.7,5.6, 2.5,1.2,4.4,3.3, 2.2,1.4,2.6,4.2, 2.4,3.0,3.8,1.2,
 3.2,4.5,4.8,5.4, 4.5,0.6,5.4,6.6, 5.8,4.3,7.0,4.8, 1.4,1.2,3.7,1.6, 6.4,7.0,3.8,5.2, 7.0,7.8,8.2,6.0,
 3.7,1.4,1.0,2.2, 3.8,4.4,2.2,1.7, 1.0,2.3,6.0,5.6, 6.2,8.4,10.2,6.2, 4.6,4.9,5.0,4.4, 3.2,4.4,4.2,2.6];
const mayVarHalfDay = [8.2,9.7, 8.8,8.5, 6.0,7.2, 4.6,3.5, 0.9,6.5, 12.0,6.3, 4.3,4.8, 0.6,3.1, 4.8,8.5, 7.3,8.2,
 7.1,5.9, 1.3,2.4, 5.4,4.8, 7.7,8.3, 8.6,7.2, 2.9,3.9, 2.4,2.6, 2.2,4.0, 2.3,5.3, 6.4,5.6,
 5.2,7.1, 1.5,3.7, 5.3,3.9, 7.9,8.2, 3.5,0.9, 3.4,2.3, 1.0,6.3, 5.7,10.2, 4.4,5.2, 2.1,5.2];

// ---------------- STYLE / LAYOUT ----------------
const colors = {RAW: "#ff0000", ARIMA: "#505050", SARIMA: "#8f5fd6", VAR: "#78ec78"};
const legendColors = {RAW: "#f28c8c", ARIMA: "#555555", SARIMA: "#a678e6", VAR: "#8cf08c"};
const panelLayout = [
  {key: "a", svgLeft: 0,   svgTop: 0,   svgW: 541, boxL: 48.3,  boxR: 523.3,  boxT: 35,  boxB: 213.3, xDom: [-0.23, 32.26], yDom: [-0.55, 21.35], capX: 277},
  {key: "b", svgLeft: 541, svgTop: 0,   svgW: 560, boxL: 615.7, boxR: 1090.7, boxT: 35,  boxB: 213.3, xDom: [-0.18, 32.2],  yDom: [-0.2, 13.6],  capX: 843},
  {key: "c", svgLeft: 0,   svgTop: 345, svgW: 541, boxL: 48.3,  boxR: 523.3,  boxT: 380, boxB: 557.7, xDom: [-0.23, 32.26], yDom: [-0.3, 15.7],  capX: 277},
  {key: "d", svgLeft: 541, svgTop: 345, svgW: 560, boxL: 615.7, boxR: 1090.7, boxT: 380, boxB: 558.3, xDom: [-0.18, 32.2],  yDom: [-0.25, 13.4], capX: 843}
];
const panelData = [
  {month: months[0], yTicks: yTicksFeb, raw: febRaw, arima: [febArima, febArimaHalfDay], sarima: [febSarima, febSarimaHalfDay], var: [febVar, febVarHalfDay]},
  {month: months[1], yTicks: yTicksMar, raw: marRaw, arima: [marArima, marArimaHalfDay], sarima: [marSarima, marSarimaHalfDay], var: [marVar, marVarHalfDay]},
  {month: months[2], yTicks: yTicksApr, raw: aprRaw, arima: [aprArima, aprArimaHalfDay], sarima: [aprSarima, aprSarimaHalfDay], var: [aprVar, aprVarHalfDay]},
  {month: months[3], yTicks: yTicksMay, raw: mayRaw, arima: [mayArima, mayArimaHalfDay], sarima: [maySarima, maySarimaHalfDay], var: [mayVar, mayVarHalfDay]}
];
const svgH = 270;

function rows(values, start, step) { return values.map((v, i) => ({day: start + i * step, v})); }
function fitted(pair) { return rows(pair[0], fitStart, fitStep).concat(rows(pair[1], halfStart, halfStep)); }
function addText(text, x, y, cls, rot) {
  const d = document.createElement("div");
  d.className = "t " + cls;
  d.textContent = text;
  d.style.left = x + "px"; d.style.top = y + "px";
  if (rot) d.style.transform = "translate(-50%,-50%) rotate(" + rot + "deg)";
  document.body.appendChild(d);
}

panelLayout.forEach((L, k) => {
  const P = panelData[k];
  const chart = Plot.plot({
    width: L.svgW, height: svgH,
    marginLeft: L.boxL - L.svgLeft, marginRight: L.svgLeft + L.svgW - L.boxR,
    marginTop: L.boxT - L.svgTop, marginBottom: L.svgTop + svgH - L.boxB,
    x: {domain: L.xDom},
    y: {domain: L.yDom},
    style: {fontFamily: "Liberation Sans, Arial, sans-serif", fontSize: "8px", color: "#333", background: "transparent", overflow: "visible"},
    marks: [
      Plot.dot(fitted(P.var), {x: "day", y: "v", symbol: "times", r: 2.6, stroke: colors.VAR, strokeWidth: 1}),
      Plot.dot(fitted(P.arima), {x: "day", y: "v", symbol: "times", r: 2.5, stroke: colors.ARIMA, strokeWidth: 0.9, strokeOpacity: 0.8}),
      Plot.dot(fitted(P.sarima), {x: "day", y: "v", symbol: "times", r: 2.5, stroke: colors.SARIMA, strokeWidth: 0.9, strokeOpacity: 0.9}),
      Plot.dot(rows(P.raw, rawStart, rawStep), {x: "day", y: "v", r: 2.1, fill: colors.RAW, stroke: null}),
      Plot.frame({stroke: "#8a8a8a", strokeWidth: 1}),
      Plot.axisX({ticks: xTickValues, tickSize: 4, tickPadding: 7, label: null, stroke: "#666"}),
      Plot.axisY({ticks: P.yTicks, tickSize: 4, tickFormat: () => "", label: null, stroke: "#666"}),
      Plot.text(P.yTicks, {y: d => d, text: d => String(d), frameAnchor: "left", dx: -14, rotate: -90, textAnchor: "middle", lineAnchor: "middle", fill: "#333"})
    ]
  });
  const wrap = document.createElement("div");
  wrap.className = "panel";
  wrap.style.left = L.svgLeft + "px"; wrap.style.top = L.svgTop + "px";
  wrap.appendChild(chart);
  document.body.appendChild(wrap);

  const cx = (L.boxL + L.boxR) / 2, cy = (L.boxT + L.boxB) / 2;
  addText("Fitted Wind data &\u00a0 Raw Wind data", cx, L.boxT - 19, "title");
  addText("Wind Speed (m/s)", L.boxL - 34, cy, "lab", -90);
  addText("Date (days)", cx, L.boxB + 35, "lab");
  addText(P.month, cx, L.boxB + 45.5, "lab");
  addText("(" + L.key + ")", L.capX, L.boxB + 85, "cap");
  seriesNames.forEach((s, j) => {
    const y = L.boxB + 5.3 + j * 9.8;
    const ln = document.createElement("div");
    ln.className = "legline";
    ln.style.left = (L.boxL + 11.7) + "px"; ln.style.top = (y - 1) + "px";
    ln.style.background = legendColors[s];
    document.body.appendChild(ln);
    const tx = document.createElement("div");
    tx.className = "leg"; tx.textContent = s;
    tx.style.left = (L.boxL + 34.4) + "px"; tx.style.top = (y - 4.5) + "px";
    document.body.appendChild(tx);
  });
});
</script>
</body></html>
